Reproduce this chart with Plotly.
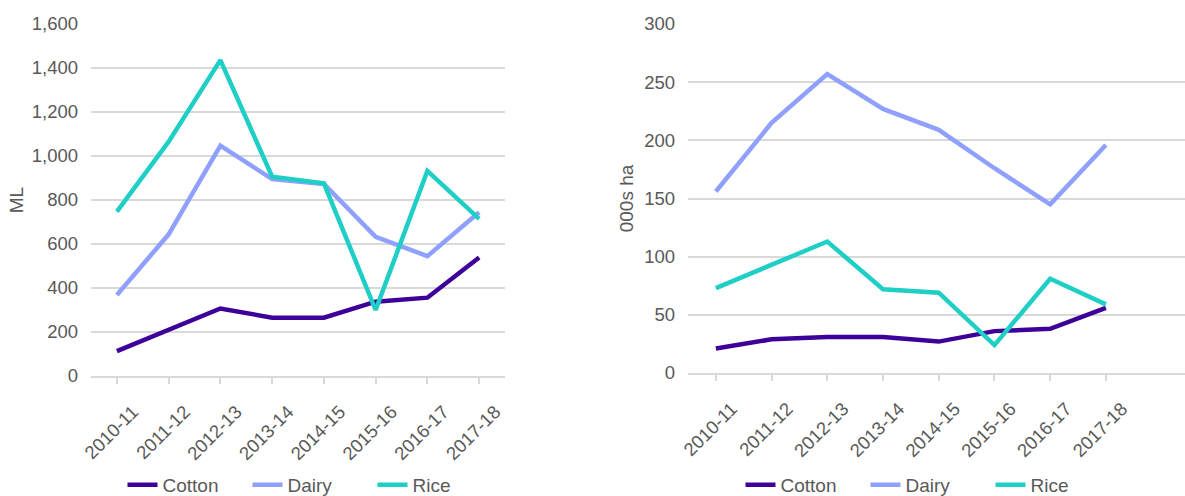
import plotly.graph_objects as go

years = ["2010-11", "2011-12", "2012-13", "2013-14", "2014-15", "2015-16", "2016-17", "2017-18"]

ml_cotton = [113, 209, 307, 265, 265, 338, 356, 539]
ml_dairy = [368, 644, 1047, 895, 873, 633, 545, 744]
ml_rice = [747, 1065, 1436, 906, 876, 300, 932, 714]

ha_cotton = [21, 29, 31, 31, 27, 36, 38, 56]
ha_dairy = [156, 215, 257, 227, 209, 176, 145, 196]
ha_rice = [73, 93, 113, 72, 69, 24, 81, 59]

colors = {"Cotton": "#3d0099", "Dairy": "#8fa0ff", "Rice": "#1fcfc6"}
font_family = "Liberation Sans, Arial, sans-serif"
grey = "#595959"

fig = go.Figure()

for name, vals in [("Cotton", ml_cotton), ("Dairy", ml_dairy), ("Rice", ml_rice)]:
    fig.add_trace(go.Scatter(x=years, y=vals, name=name, mode="lines",
                             line=dict(color=colors[name], width=4.5),
                             xaxis="x", yaxis="y", legend="legend"))
for name, vals in [("Cotton", ha_cotton), ("Dairy", ha_dairy), ("Rice", ha_rice)]:
    fig.add_trace(go.Scatter(x=years, y=vals, name=name, mode="lines",
                             line=dict(color=colors[name], width=4.5),
                             xaxis="x2", yaxis="y2", legend="legend2"))

W, H = 1185, 496
l1, r1, t1, b1 = 91, 505, 24, 376
l2, r2, t2, b2 = 688, 1185, 24, 373

tick_font = dict(size=18.5, color=grey, family=font_family)
axis_common = dict(showgrid=False, showline=True, linecolor="#d9d9d9", linewidth=1.5,
                   ticks="outside", tickcolor="#d9d9d9", ticklen=6, tickwidth=1.5,
                   tickangle=-45, tickfont=tick_font, automargin=False,
                   ticklabelstandoff=10, ticklabelshift=16,
                   type="category")
yaxis_common = dict(showgrid=True, gridcolor="#d9d9d9", gridwidth=1.5, zeroline=False,
                    showline=False, ticks="", tickfont=tick_font, automargin=False,
                    ticklabelstandoff=12)

legend_common = dict(orientation="h", yanchor="middle", y=(H - 485) / H,
                     font=dict(size=19, color=grey, family=font_family),
                     itemwidth=30, entrywidth=80, tracegroupgap=0,
                     bgcolor="rgba(0,0,0,0)")

fig.update_layout(
    width=W, height=H,
    margin=dict(l=0, r=0, t=0, b=0, autoexpand=False),
    paper_bgcolor="white", plot_bgcolor="white",
    font=dict(family=font_family, color=grey),
    xaxis=dict(domain=[l1 / W, r1 / W], anchor="y", range=[-0.5, 7.5], **axis_common),
    yaxis=dict(domain=[1 - b1 / H, 1 - t1 / H], anchor="x", range=[0, 1600], dtick=200,
               tickformat=",d",
               title=dict(text="ML", font=dict(size=19, color=grey), standoff=3),
               **yaxis_common),
    xaxis2=dict(domain=[l2 / W, r2 / W], anchor="y2", range=[-0.5, 8.42], **axis_common),
    yaxis2=dict(domain=[1 - b2 / H, 1 - t2 / H], anchor="x2", range=[0, 300], dtick=50,
                title=dict(text="000s ha", font=dict(size=19, color=grey), standoff=5),
                **yaxis_common),
    legend=dict(x=310 / W, xanchor="center", **legend_common),
    legend2=dict(x=928 / W, xanchor="center", **legend_common),
    showlegend=True,
)

fig.write_html("out.html")
